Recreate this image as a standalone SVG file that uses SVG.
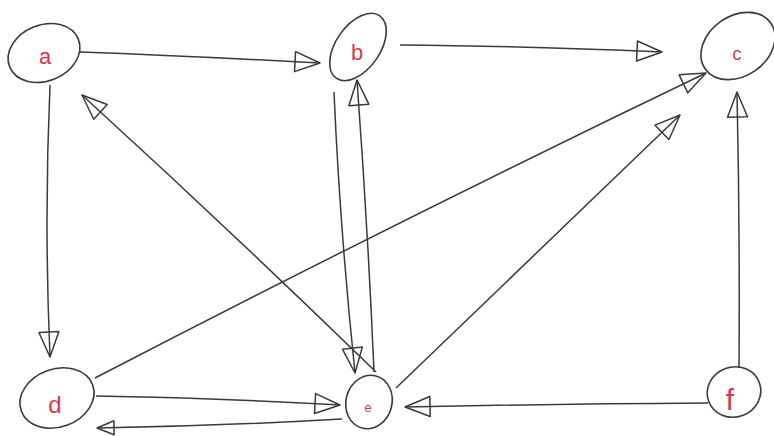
<svg xmlns="http://www.w3.org/2000/svg" width="774" height="436" viewBox="0 0 774 436">
<style>
.n{fill:none;stroke:#3a3a3a;stroke-width:1.6}
.e{fill:none;stroke:#3a3a3a;stroke-width:1.5;marker-end:url(#ah)}
.l{fill:#e0344a;font-family:"Liberation Sans",sans-serif;text-anchor:middle}
</style>
<defs>
<marker id="ah" markerUnits="userSpaceOnUse" markerWidth="32" markerHeight="26" refX="27" refY="12" orient="auto">
<path d="M2,2 L27,12 L2,22 Z" fill="none" stroke="#3a3a3a" stroke-width="1.5" stroke-linejoin="round"/>
</marker>
<marker id="ahs" markerUnits="userSpaceOnUse" markerWidth="24" markerHeight="20" refX="19" refY="9" orient="auto">
<path d="M2,2 L19,9 L2,16 Z" fill="none" stroke="#3a3a3a" stroke-width="1.5" stroke-linejoin="round"/>
</marker>
</defs>
<rect width="774" height="436" fill="#fff"/>
<g id="connectors">
<path class="e" d="M80,52 Q190,56 320,63"/>
<path class="e" d="M400,45 Q520,46 662,52"/>
<path class="e" d="M50,85 Q44,220 50,357"/>
<path class="e" d="M334,92 Q340,230 355,373"/>
<path class="e" d="M374,372 Q368,230 357,80"/>
<path class="e" d="M376,372 Q230,230 82,95"/>
<path class="e" d="M95,378 Q400,220 706,73"/>
<path class="e" d="M396,388 Q540,250 680,115"/>
<path class="e" d="M739,368 Q740,230 737,92"/>
<path class="e" d="M96,396 Q220,398 340,405"/>
<path class="e" d="M342,419 Q220,426 97,428" style="marker-end:url(#ahs)"/>
<path class="e" d="M708,403 Q550,404 405,407"/>
</g>
<g id="node-a"><ellipse class="n" cx="44" cy="53" rx="37" ry="28" transform="rotate(-22 44 53)"/><text class="l" x="45" y="64" font-size="22">a</text></g>
<g id="node-b"><ellipse class="n" cx="358" cy="47" rx="38" ry="22" transform="rotate(-55 358 47)"/><text class="l" x="357" y="60" font-size="22">b</text></g>
<g id="node-c"><ellipse class="n" cx="738" cy="46" rx="40" ry="30" transform="rotate(-35 738 46)"/><text class="l" x="737" y="60" font-size="18">c</text></g>
<g id="node-d"><ellipse class="n" cx="57" cy="398" rx="38" ry="29" transform="rotate(-20 57 398)"/><text class="l" x="55" y="413" font-size="24">d</text></g>
<g id="node-e"><ellipse class="n" cx="369" cy="402" rx="23" ry="27" transform="rotate(15 369 402)"/><text class="l" x="368" y="412" font-size="13">e</text></g>
<g id="node-f"><ellipse class="n" cx="734" cy="392" rx="27" ry="25" transform="rotate(-20 734 392)"/><text class="l" x="730" y="410" font-size="30">f</text></g>
</svg>
